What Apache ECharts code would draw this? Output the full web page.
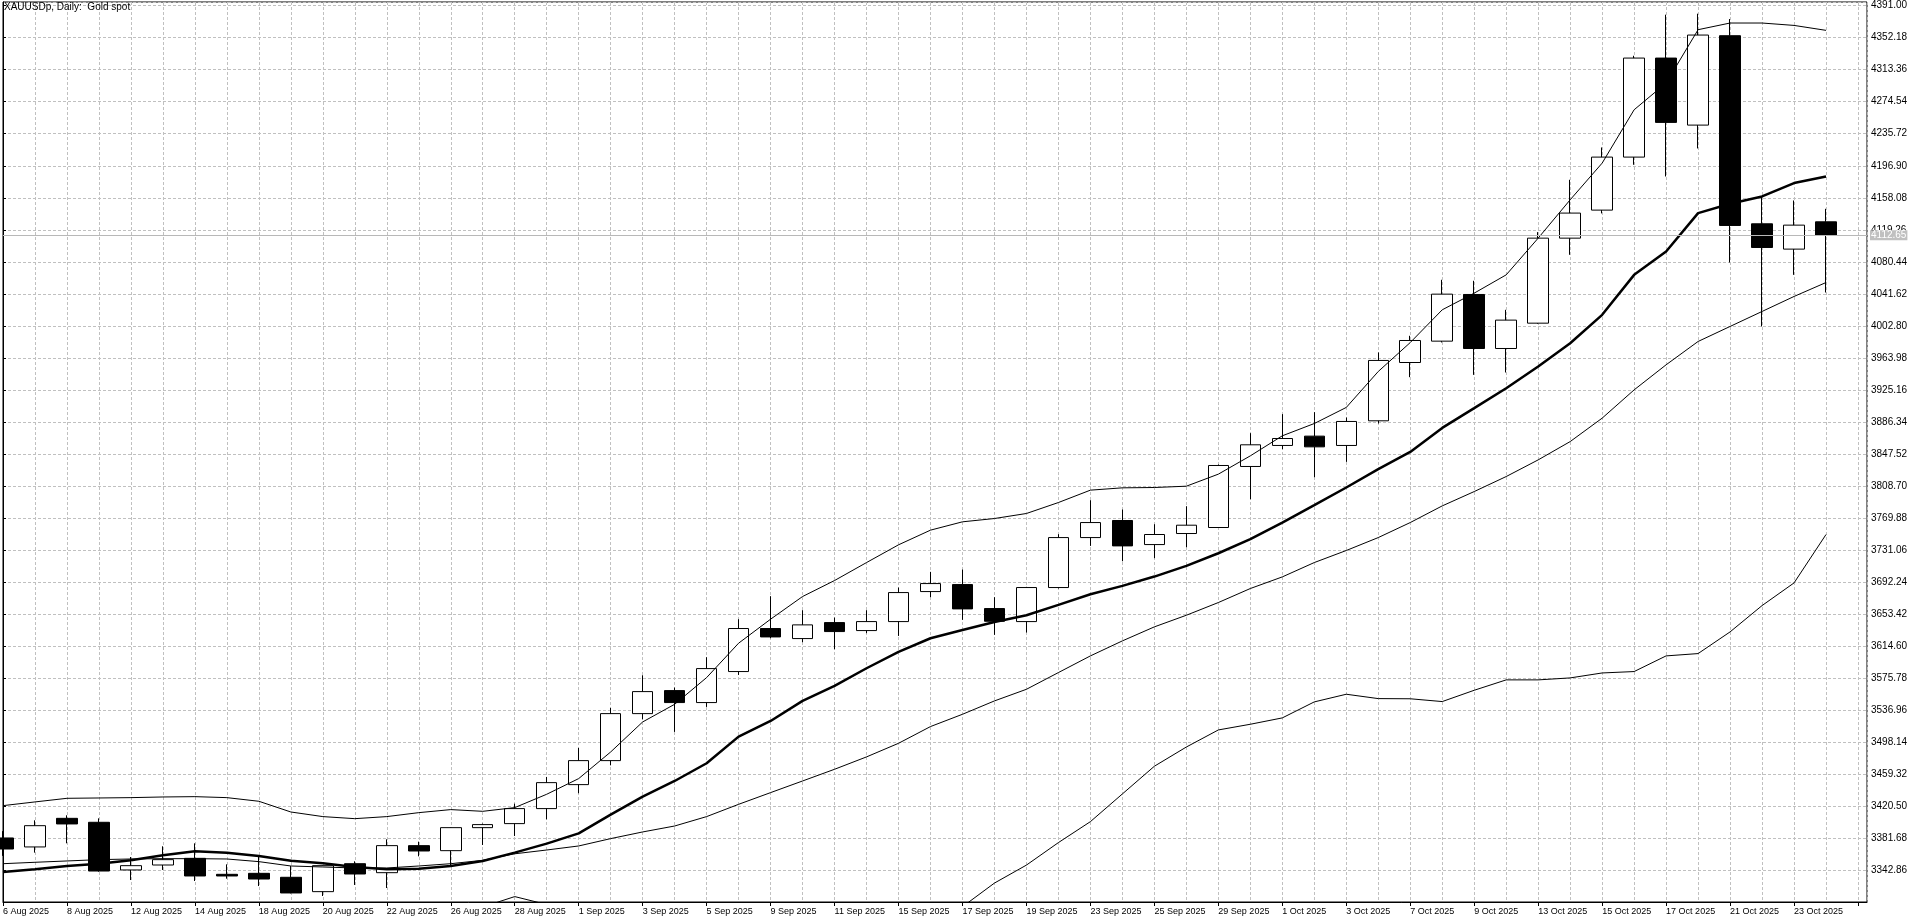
<!DOCTYPE html>
<html>
<head>
<meta charset="utf-8">
<title>XAUUSDp, Daily</title>
<script src="https://cdn.jsdelivr.net/npm/echarts@6.0.0/dist/echarts.min.js"></script>
<style>
html, body { margin: 0; padding: 0; background: #fff; }
#section-chart { width: 1920px; height: 923px; }
</style>
</head>
<body>
<div id="section-chart"></div>
<script>
// trading days shown on the chart (one candle each)
var dates = ["6 Aug 2025","7 Aug 2025","8 Aug 2025","11 Aug 2025","12 Aug 2025","13 Aug 2025","14 Aug 2025","15 Aug 2025",
    "18 Aug 2025","19 Aug 2025","20 Aug 2025","21 Aug 2025","22 Aug 2025","25 Aug 2025","26 Aug 2025","27 Aug 2025",
    "28 Aug 2025","29 Aug 2025","1 Sep 2025","2 Sep 2025","3 Sep 2025","4 Sep 2025","5 Sep 2025","8 Sep 2025",
    "9 Sep 2025","10 Sep 2025","11 Sep 2025","12 Sep 2025","15 Sep 2025","16 Sep 2025","17 Sep 2025","18 Sep 2025",
    "19 Sep 2025","22 Sep 2025","23 Sep 2025","24 Sep 2025","25 Sep 2025","26 Sep 2025","29 Sep 2025","30 Sep 2025",
    "1 Oct 2025","2 Oct 2025","3 Oct 2025","6 Oct 2025","7 Oct 2025","8 Oct 2025","9 Oct 2025","10 Oct 2025",
    "13 Oct 2025","14 Oct 2025","15 Oct 2025","16 Oct 2025","17 Oct 2025","20 Oct 2025","21 Oct 2025","22 Oct 2025",
    "23 Oct 2025","24 Oct 2025"];

var opens = [3381.7,3370.8,3405.5,3400.7,3342.9,3348.9,3357.0,3337.6,3338.8,3334.0,3316.6,3350.5,3339.6,3372.4,3366.3,3394.2,
    3399.1,3417.3,3446.4,3475.5,3532.5,3560.4,3545.9,3583.5,3635.7,3623.5,3642.9,3633.2,3644.1,3680.5,3689.0,3659.9,
    3644.1,3685.4,3746.0,3766.7,3737.5,3750.9,3758.2,3832.2,3857.7,3869.0,3857.7,3887.6,3958.3,3984.2,4040.8,3975.3,
    4006.0,4109.1,4143.1,4207.4,4327.5,4246.2,4354.6,4126.5,4095.8,4128.9];
var closes = [3368.3,3396.6,3398.7,3341.6,3348.1,3355.4,3335.6,3335.6,3331.9,3315.0,3348.1,3338.0,3372.4,3365.9,3394.2,3397.9,
    3417.3,3448.8,3475.5,3532.5,3559.2,3545.9,3587.1,3635.7,3625.5,3640.1,3632.0,3644.1,3679.3,3690.2,3659.5,3644.5,
    3685.4,3746.0,3764.2,3735.9,3749.7,3761.0,3833.4,3858.5,3866.1,3856.0,3886.8,3960.8,3985.0,4041.2,3975.3,4009.7,
    4109.1,4139.5,4207.4,4327.5,4249.5,4355.4,4124.5,4097.8,4124.9,4112.65];
var lows = [3360.0,3363.9,3375.2,3340.8,3330.7,3342.9,3329.5,3332.3,3323.4,3314.5,3311.3,3324.7,3321.0,3359.4,3347.7,3373.2,
    3384.1,3404.3,3435.9,3469.8,3525.7,3510.3,3540.6,3579.4,3623.9,3619.1,3610.6,3630.0,3626.7,3673.7,3646.2,3628.0,
    3630.8,3684.2,3735.9,3717.3,3721.0,3734.3,3757.8,3792.5,3853.2,3819.2,3837.8,3884.3,3940.5,3982.6,3943.3,3946.2,
    4005.2,4088.9,4139.1,4198.1,4183.9,4217.9,4079.6,4002.0,4064.6,4043.2];
var highs = [3390.0,3403.1,3409.2,3405.5,3358.6,3371.6,3375.2,3349.7,3359.8,3347.7,3348.5,3353.4,3380.1,3377.2,3394.6,3399.1,
    3423.3,3455.7,3490.9,3539.4,3579.0,3564.1,3600.9,3647.0,3674.9,3657.9,3649.0,3657.9,3685.4,3704.4,3707.2,3673.7,
    3686.2,3750.1,3791.3,3780.0,3762.2,3784.0,3834.6,3872.6,3895.7,3898.1,3891.6,3970.5,3990.7,4058.6,4057.4,4022.2,
    4116.4,4179.9,4219.1,4330.3,4380.1,4381.3,4374.8,4159.7,4154.8,4144.7];

// bollinger bands
var bandUpper = [3420.9,3425.4,3429.8,3430.2,3430.6,3431.4,3431.8,3430.6,3426.2,3413.2,3407.6,3405.1,3407.6,3412.4,3416.1,3414.0,
    3418.5,3434.7,3453.7,3486.0,3522.4,3543.8,3576.2,3617.9,3647.0,3674.5,3693.9,3715.7,3737.2,3755.0,3765.1,3769.1,
    3775.2,3788.5,3803.5,3806.3,3806.7,3808.3,3822.9,3845.1,3869.4,3884.3,3903.8,3947.4,3982.5,4022.2,4042.4,4064.6,
    4109.1,4155.6,4200.1,4264.8,4297.2,4361.9,4370.0,4370.0,4367.1,4361.1];
var bandMiddle = [3350.5,3352.2,3353.8,3355.4,3356.2,3356.6,3356.6,3356.2,3353.0,3347.7,3346.5,3345.3,3345.3,3347.7,3350.5,3354.6,
    3362.5,3367.1,3372.0,3380.9,3389.0,3396.2,3407.6,3422.5,3436.7,3450.8,3465.0,3480.0,3496.5,3516.8,3531.7,3547.9,
    3562.0,3582.3,3602.5,3620.7,3637.7,3651.8,3667.2,3684.2,3698.3,3715.7,3730.3,3746.0,3764.2,3784.4,3801.8,3820.0,
    3840.2,3862.4,3890.8,3925.1,3955.5,3983.8,4002.0,4020.2,4038.4,4055.3];
var bandLower = [3280.1,3279.0,3277.8,3280.6,3281.8,3281.8,3281.4,3281.8,3279.8,3282.2,3285.4,3285.5,3283.0,3283.0,3284.9,3298.0,
    3310.6,3301.0,3290.3,3275.8,3255.6,3248.6,3239.0,3227.1,3226.4,3227.1,3236.1,3244.3,3255.8,3278.6,3298.3,3327.0,
    3348.8,3376.1,3401.5,3435.1,3468.7,3492.0,3512.7,3519.6,3527.3,3546.7,3556.0,3550.7,3550.5,3547.1,3560.8,3573.4,
    3573.4,3575.8,3581.8,3583.5,3602.5,3605.3,3631.6,3663.5,3691.0,3749.7];
// moving average (thick line)
var movingAvg = [3340.4,3343.7,3347.7,3350.5,3354.6,3360.7,3365.5,3363.9,3359.8,3354.2,3351.0,3346.5,3343.7,3344.5,3347.7,3353.8,
    3363.9,3374.8,3387.3,3410.0,3431.8,3450.8,3472.3,3504.6,3523.6,3547.9,3566.1,3587.5,3607.3,3623.9,3634.0,3643.7,
    3651.8,3664.3,3677.3,3687.4,3698.7,3711.7,3727.0,3744.0,3764.2,3785.3,3806.7,3829.0,3849.8,3879.0,3902.9,3927.1,
    3953.4,3981.7,4016.1,4064.6,4093.0,4139.5,4150.8,4159.7,4175.9,4183.9];

var lastPrice = 4112.65;
var priceStep = 38.82;
var priceMin = 3304.04;
var priceMax = 4395.49;

function toPoints(arr) {
    return arr.map(function (v, i) { return [i, v]; });
}

var candles = dates.map(function (d, i) {
    return [i, opens[i], closes[i], lows[i], highs[i]];
});

var gridDash = {color: "#c0c0c0", type: [3, 2], width: 1};
var font = "Liberation Sans";

var lineChart = echarts.init(document.getElementById("section-chart"));
var lineChartOption = {
    animation: false,
    backgroundColor: "#fff",
    graphic: [{
        type: "text",
        left: 4,
        top: 2,
        style: {
            text: "XAUUSDp, Daily:  Gold spot",
            fill: "#000",
            font: "10px " + font
        },
        z: 100
    }],
    grid: {
        left: 2,
        top: 2,
        right: 53,
        bottom: 21,
        show: true,
        borderColor: "#000",
        borderWidth: 1
    },
    xAxis: {
        type: "value",
        min: 0,
        max: 1865 / 32,
        interval: 2,
        axisLine: {show: true, lineStyle: {color: "#000", width: 1}},
        axisTick: {show: true, length: 4, lineStyle: {color: "#000"}},
        axisLabel: {
            color: "#000",
            fontFamily: font,
            fontSize: 9,
            align: "left",
            margin: 5,
            showMaxLabel: false,
            formatter: function (v) {
                return (v % 2 === 0 && dates[v]) ? dates[v] : "";
            }
        },
        splitLine: {show: true, lineStyle: gridDash},
        minorTick: {show: false, splitNumber: 2},
        minorSplitLine: {show: true, lineStyle: gridDash}
    },
    yAxis: {
        type: "value",
        position: "right",
        scale: true,
        min: priceMin,
        max: priceMax,
        interval: priceStep,
        axisLine: {show: true, lineStyle: {color: "#000", width: 1}},
        axisTick: {show: true, length: 3, lineStyle: {color: "#000"}},
        axisLabel: {
            color: "#000",
            fontFamily: font,
            fontSize: 10,
            margin: 4,
            showMinLabel: false,
            showMaxLabel: false,
            formatter: function (v) { return v.toFixed(2); }
        },
        splitLine: {show: true, lineStyle: gridDash}
    },
    series: [
        {
            name: "XAUUSDp",
            type: "candlestick",
            data: candles,
            encode: {x: 0, y: [1, 2, 3, 4]},
            barWidth: 21,
            z: 2,
            itemStyle: {
                color: "#fff",
                color0: "#000",
                borderColor: "#000",
                borderColor0: "#000",
                borderWidth: 1
            },
            markLine: {
                silent: true,
                symbol: "none",
                data: [{yAxis: lastPrice}],
                lineStyle: {color: "#b8b8b8", type: "solid", width: 1},
                label: {
                    show: true,
                    position: "end",
                    distance: 3,
                    formatter: lastPrice.toFixed(2),
                    color: "#fff",
                    fontFamily: font,
                    fontSize: 10,
                    backgroundColor: "#c0c0c0",
                    padding: [0, 1, 0, 1],
                    lineHeight: 10
                }
            }
        },
        {name: "BB upper", type: "line", data: toPoints(bandUpper), symbol: "none", silent: true, z: 3,
            lineStyle: {color: "#000", width: 1}},
        {name: "BB middle", type: "line", data: toPoints(bandMiddle), symbol: "none", silent: true, z: 3,
            lineStyle: {color: "#000", width: 1}},
        {name: "BB lower", type: "line", data: toPoints(bandLower), symbol: "none", silent: true, z: 3,
            lineStyle: {color: "#000", width: 1}},
        {name: "MA", type: "line", data: toPoints(movingAvg), symbol: "none", silent: true, z: 3,
            lineStyle: {color: "#000", width: 2.5}}
    ]
};

lineChart.setOption(lineChartOption);

window.onresize = function () {
    lineChart.resize();
};
</script>
</body>
</html>
